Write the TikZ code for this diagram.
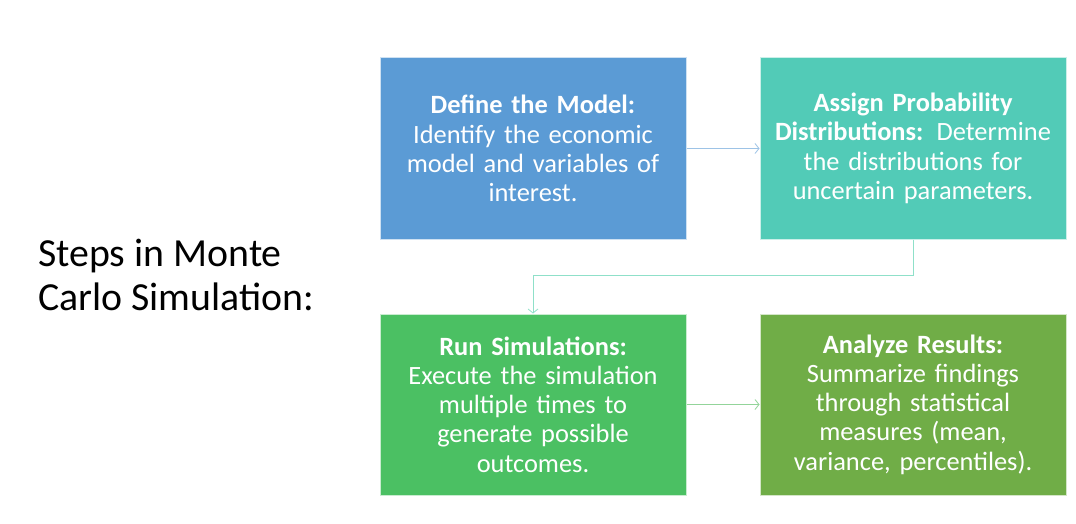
\documentclass[tikz,border=0pt]{standalone}
\usepackage{fontspec}
\setmainfont{Carlito}
\usetikzlibrary{arrows.meta}
\hyphenpenalty=10000
\exhyphenpenalty=10000
\definecolor{c1}{HTML}{5B9BD5}
\definecolor{c2}{HTML}{52CBB7}
\definecolor{c3}{HTML}{4BC063}
\definecolor{c4}{HTML}{70AD47}
\definecolor{a1}{HTML}{9DC3E6}
\definecolor{a2}{HTML}{8FE0C9}
\definecolor{a3}{HTML}{93D49A}
\begin{document}
\begin{tikzpicture}[x=1pt,y=-1pt,
  stepbox/.style={draw=white!70!#1,fill=#1,line width=1pt,minimum width=306pt,minimum height=181pt,
    inner sep=0pt,text width=300pt,align=center,text=white,
    font=\fontsize{26.4}{29.3}\selectfont},
  conn/.style={draw=#1,line width=0.8pt,-{Straight Barb[length=4pt,width=10pt,line width=0.8pt]}}]
\useasboundingbox (0,0) rectangle (1076,524);
\node[stepbox=c1] (b1) at (533,148.5) {\textbf{Define the Model:}\\Identify the economic\\model and variables of\\interest.};
\node[stepbox=c2] (b2) at (913,148.5) {\textbf{Assign Probability}\\\textbf{Distributions:} Determine\\the distributions for\\uncertain parameters.};
\node[stepbox=c3] (b3) at (533,404.5) {\textbf{Run Simulations:}\\Execute the simulation\\multiple times to\\generate possible\\outcomes.};
\node[stepbox=c4] (b4) at (913,404.5) {\textbf{Analyze Results:}\\Summarize findings\\through statistical\\measures (mean,\\variance, percentiles).};
\node[anchor=west,align=left,font=\fontsize{39.8}{44}\selectfont,inner sep=0pt] (title) at (38,275) {Steps in Monte\\Carlo Simulation:};
\draw[conn=a1] (b1.east) -- (b2.west);
\draw[conn=a2] (b2.south) -- ++(0,36) coordinate (m) -| (b3.north);
\draw[conn=a3] (b3.east) -- (b4.west);
\end{tikzpicture}
\end{document}
